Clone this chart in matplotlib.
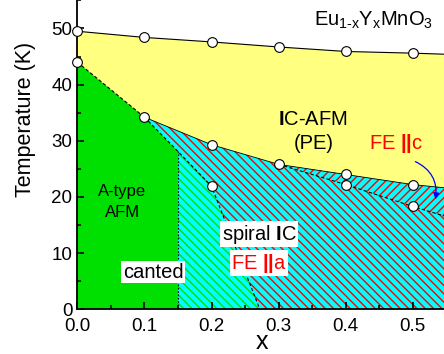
import matplotlib.pyplot as plt
from matplotlib.ticker import MultipleLocator

plt.rcParams['font.family'] = ['Liberation Sans', 'DejaVu Sans']
plt.rcParams['mathtext.fontset'] = 'custom'
plt.rcParams['mathtext.rm'] = 'Liberation Sans'
plt.rcParams['mathtext.bf'] = 'Liberation Sans:bold'
plt.rcParams['mathtext.it'] = 'Liberation Sans:italic'
plt.rcParams['hatch.linewidth'] = 1.0

# Neel temperature (upper line)
x_tn = [0.0, 0.1, 0.2, 0.3, 0.4, 0.5, 0.55]
t_tn = [49.5, 48.4, 47.6, 46.7, 45.9, 45.6, 45.4]
# lower boundary of the IC-AFM phase
x_ic = [0.0, 0.1, 0.2, 0.3, 0.4, 0.5, 0.55]
t_ic = [44.0, 34.2, 29.3, 25.8, 24.0, 22.2, 21.6]
# canted A-type / spiral boundary
x_sp = [0.1, 0.15, 0.2, 0.272]
t_sp = [34.2, 28.1, 21.9, 0.0]
x_cant = 0.15
# FE||c lower boundary
x_fc = [0.3, 0.4, 0.5, 0.55]
t_fc = [25.8, 22.2, 18.3, 16.5]
# measured points
x_pts = [0.0, 0.1, 0.2, 0.3, 0.4, 0.5, 0.0, 0.1, 0.2, 0.3, 0.4, 0.5, 0.2, 0.4, 0.5]
t_pts = [49.5, 48.4, 47.6, 46.7, 45.9, 45.6, 44.0, 34.2, 29.3, 25.8, 24.0, 22.2, 21.9, 22.2, 18.3]

fig = plt.figure(figsize=(4.44, 3.54), dpi=100)
ax = fig.add_axes([0.1741, 0.1263, 0.8313, 0.8727])
ax.set_xlim(0, 0.55)
ax.set_ylim(0, 55)

yellow = '#ffff80'
green = '#00e000'
cyan = '#00ffff'

# yellow IC-AFM (PE) region
ax.fill(x_tn + x_ic[::-1], t_tn + t_ic[::-1], facecolor=yellow, edgecolor='none', zorder=1)

# spiral IC region (cyan, red hatch)
sp_x = x_ic[1:] + [0.55, x_sp[-1]] + x_sp[::-1][1:]
sp_y = t_ic[1:] + [0.0, 0.0] + t_sp[::-1][1:]
ax.fill(sp_x, sp_y, facecolor=cyan, edgecolor='none', zorder=1)
ax.fill(sp_x, sp_y, facecolor='none', edgecolor='red', lw=0, hatch='\\\\\\\\', zorder=1.1)

# FE||c region
fc_x = x_ic[3:] + x_fc[::-1]
fc_y = t_ic[3:] + t_fc[::-1]
ax.fill(fc_x, fc_y, facecolor=cyan, edgecolor='none', zorder=1.2)
ax.fill(fc_x, fc_y, facecolor='none', edgecolor='red', lw=0, hatch='////', zorder=1.3)

# canted region (cyan, green hatch)
cn_x = [x_cant] + x_sp[1:] + [x_cant]
cn_y = [t_sp[1]] + t_sp[1:] + [0.0]
ax.fill(cn_x, cn_y, facecolor=cyan, edgecolor='none', zorder=1)
ax.fill(cn_x, cn_y, facecolor='none', edgecolor=green, lw=0, hatch='\\\\\\\\', zorder=1.1)

# A-type AFM region (green)
gr_x = [0.0] + x_ic[:2] + [x_sp[1], x_cant, 0.0]
gr_y = [0.0] + t_ic[:2] + [t_sp[1], 0.0, 0.0]
ax.fill(gr_x, gr_y, facecolor=green, edgecolor='none', zorder=1)

# boundary lines
ax.plot(x_tn, t_tn, color='black', lw=0.8, zorder=3)
ax.plot(x_ic[1:], t_ic[1:], color='black', lw=0.6, zorder=3)
ax.plot(x_ic[:2], t_ic[:2], color='black', lw=0.8, ls=(0, (3, 2)), zorder=3)
ax.plot(x_sp, t_sp, color='black', lw=0.8, ls=(0, (3, 2)), zorder=3)
ax.plot([x_cant, x_cant], [0, t_sp[1]], color='black', lw=0.8, ls=(0, (1.5, 1.5)), zorder=3)
ax.plot(x_fc, t_fc, color='black', lw=0.8, ls=(0, (3, 2)), zorder=3)

ax.plot(x_pts, t_pts, 'o', ms=7, mfc='white', mec='black', mew=0.8, clip_on=False, zorder=5)

# labels
ax.text(0.441, 51.5, r'Eu$_{\mathrm{1\text{-}x}}$Y$_{\mathrm{x}}$MnO$_{\mathrm{3}}$', fontsize=14.5,
        ha='center', va='center')
ax.text(0.351, 33.8, r'$\mathbf{I}$C-AFM', fontsize=14.5, ha='center', va='center')
ax.text(0.352, 29.5, '(PE)', fontsize=14.5, ha='center', va='center')
ax.text(0.475, 29.5, r'FE $\mathbf{||}$c', fontsize=14.5, color='red', ha='center', va='center')
ax.text(0.0667, 21.0, 'A-type', fontsize=12, ha='center', va='center')
ax.text(0.0667, 17.3, 'AFM', fontsize=12, ha='center', va='center')
ax.text(0.113, 6.6, 'canted', fontsize=14.5, ha='center', va='center',
        bbox=dict(facecolor='white', edgecolor='none', pad=1))
ax.text(0.271, 13.4, r'spiral $\mathbf{I}$C', fontsize=14.5, ha='center', va='center',
        bbox=dict(facecolor='white', edgecolor='none', pad=1))
ax.text(0.271, 8.2, r'FE $\mathbf{||}$a', fontsize=14.5, color='red', ha='center', va='center',
        bbox=dict(facecolor='white', edgecolor='none', pad=1))

ax.annotate('', xy=(0.533, 19.1), xytext=(0.5, 26.5),
            arrowprops=dict(arrowstyle='-|>', color='blue', lw=0.9,
                            connectionstyle='arc3,rad=-0.4', mutation_scale=9),
            zorder=6)

ax.set_xlabel('x', fontsize=18, labelpad=-3)
ax.set_ylabel('Temperature (K)', fontsize=15.5)
ax.yaxis.set_label_coords(-0.112, 0.616)

ax.xaxis.set_major_locator(MultipleLocator(0.1))
ax.xaxis.set_minor_locator(MultipleLocator(0.05))
ax.yaxis.set_major_locator(MultipleLocator(10))
ax.yaxis.set_minor_locator(MultipleLocator(5))
ax.xaxis.set_major_formatter(plt.FormatStrFormatter('%.1f'))
ax.tick_params(which='both', direction='in', labelsize=13.5, width=1.2)
ax.tick_params(axis='x', pad=6)
ax.tick_params(which='major', length=5)
ax.tick_params(which='minor', length=3)
ax.spines['top'].set_visible(False)
ax.spines['right'].set_visible(False)
ax.spines['left'].set_linewidth(1.3)
ax.spines['bottom'].set_linewidth(1.3)

fig.savefig('out.png', dpi=100)
